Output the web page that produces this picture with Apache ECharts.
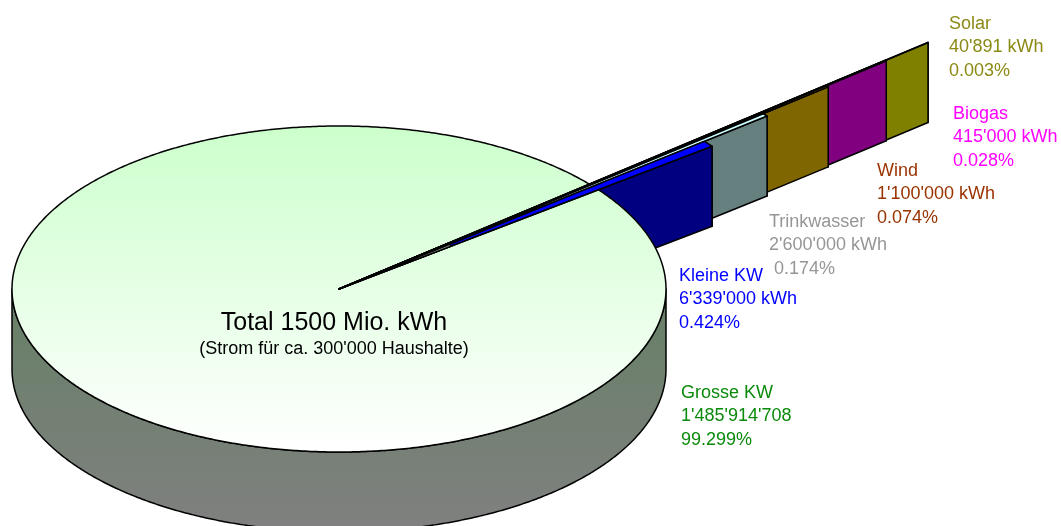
<!DOCTYPE html>
<html>
<head>
<meta charset="utf-8">
<style>html,body{margin:0;padding:0;background:#fff}#chart{width:1061px;height:526px}</style>
<script src="https://cdn.jsdelivr.net/npm/echarts@6/dist/echarts.min.js"></script>
</head>
<body>
<div id="chart"></div>
<script>
// Electricity production by plant type, in kWh per year
const categories = ['Grosse KW', 'Kleine KW', 'Trinkwasser', 'Wind', 'Biogas', 'Solar'];
const energyKwh = [1485914708, 6339000, 2600000, 1100000, 415000, 40891];
const unitSuffix = ['', ' kWh', ' kWh', ' kWh', ' kWh', ' kWh'];
const centerLines = ['Total 1500 Mio. kWh', "(Strom für ca. 300'000 Haushalte)"];

// Disc projection on a pixel-scaled pair of axes
const CX = 339, CY = 289, RX = 327, RY = 163, DEPTH = 80;
const FIRST_SMALL_ANGLE = 37.5;
// How far each slice reaches out, in disc radii
const reach = [1, 1.438, 1.685, 1.943, 2.182, 2.352];
const wallColor = ['#000', '#000080', '#668080', '#806600', '#800080', '#808000'];
const topColor = ['#000', '#0000ff', '#ccffff', '#806600', '#800080', '#808000'];
const labelColor = ['#0a8a0a', '#0000ff', '#969696', '#993300', '#ff00ff', '#8a8a14'];
const labelAnchor = [[681, 393], [679, 276], [769, 222], [877, 171], [953, 114], [949, 24]];
const labelIndent = [[0, 0, 0], [0, 0, 0], [0, 0, 5], [0, 0, 0], [0, 0, 0], [0, 0, 0]];
const LINE_GAP = 23.5;
const FONT = '"Liberation Sans", Arial, sans-serif';
const INNER_REACH = 0.435;

const total = energyKwh.reduce((a, b) => a + b, 0);
const spans = energyKwh.map(v => v / total * 360);

// Small slices run counter-clockwise from FIRST_SMALL_ANGLE; the big one fills the rest
const sliceStart = [];
let cursor = FIRST_SMALL_ANGLE;
for (let i = 1; i < categories.length; i++) { sliceStart[i] = cursor; cursor += spans[i]; }
sliceStart[0] = cursor;

const groupThousands = v => String(v).replace(/\B(?=(\d{3})+$)/g, "'");
const percentText = v => (v / total * 100).toFixed(3) + '%';

function at(r, deg, drop) {
  const a = deg * Math.PI / 180;
  return [CX + RX * r * Math.cos(a), CY - RY * r * Math.sin(a) + (drop || 0)];
}
const toPixels = (api, pts) => pts.map(p => api.coord(p));
const outline = { stroke: '#000', lineWidth: 1.5, lineJoin: 'round' };

function polygon(api, pts, fill) {
  return { type: 'polygon', shape: { points: toPixels(api, pts) }, style: Object.assign({ fill }, outline) };
}

// Radial wall and end face of one small slice
function renderWall(params, api) {
  const i = api.value(0);
  const r = reach[i], a0 = sliceStart[i], a1 = a0 + spans[i];
  return {
    type: 'group',
    children: [
      polygon(api, [at(r, a0), at(r, a1), at(r, a1, DEPTH), at(r, a0, DEPTH)], wallColor[i]),
      polygon(api, [at(0, a0), at(r, a0), at(r, a0, DEPTH), at(0, a0, DEPTH)], wallColor[i])
    ]
  };
}

// Rim and top face of the big slice
function renderDisc(params, api) {
  const a0 = sliceStart[0], a1 = a0 + spans[0];
  const rim = [], lower = [];
  for (let d = 180; d <= 360; d += 0.5) { rim.push(at(1, d)); lower.unshift(at(1, d, DEPTH)); }
  const top = [at(0, 0)];
  for (let d = a0; d < a1; d += 0.5) top.push(at(1, d));
  top.push(at(1, a1));
  return {
    type: 'group',
    children: [
      {
        type: 'polygon',
        shape: { points: toPixels(api, rim.concat(lower)) },
        style: Object.assign({
          fill: new echarts.graphic.LinearGradient(0, 0, 0, 1, [
            { offset: 0, color: '#668066' }, { offset: 1, color: '#808080' }
          ])
        }, outline)
      },
      {
        type: 'polygon',
        shape: { points: toPixels(api, top) },
        style: Object.assign({
          fill: new echarts.graphic.LinearGradient(0, 0, 0, 1, [
            { offset: 0, color: '#ccffcc' }, { offset: 1, color: '#ffffff' }
          ])
        }, outline)
      }
    ]
  };
}

// Top face of one small slice, greyed near the centre
function renderTop(params, api) {
  const i = api.value(0);
  const r = reach[i], a0 = sliceStart[i], a1 = a0 + spans[i];
  return {
    type: 'group',
    children: [
      polygon(api, [at(0, a0), at(r, a0), at(r, a1)], topColor[i]),
      polygon(api, [at(0, a0), at(INNER_REACH, a0), at(INNER_REACH, a1)], '#8f9f8f')
    ]
  };
}

function textEl(api, str, x, y, fill, size, align) {
  const p = api.coord([x, y]);
  return {
    type: 'text',
    style: { text: str, x: p[0], y: p[1], fill, font: size + 'px ' + FONT, align: align || 'left', verticalAlign: 'middle' }
  };
}

function renderLabel(params, api) {
  const i = api.value(0);
  const [x, y] = labelAnchor[i];
  const lines = [categories[i], groupThousands(energyKwh[i]) + unitSuffix[i], percentText(energyKwh[i])];
  return {
    type: 'group',
    children: lines.map((t, k) => textEl(api, t, x + labelIndent[i][k], y + k * LINE_GAP, labelColor[i], 18))
  };
}

function renderCenter(params, api) {
  return {
    type: 'group',
    children: [
      textEl(api, centerLines[0], 334, 323, '#000', 25, 'center'),
      textEl(api, centerLines[1], 334, 349, '#000', 18, 'center')
    ]
  };
}

const smallFarFirst = [5, 4, 3, 2, 1];
const customSeries = (renderItem, data, z) => ({
  type: 'custom', coordinateSystem: 'cartesian2d', renderItem, data: data.map(i => [i]),
  encode: { x: -1, y: -1 }, silent: true, clip: false, animation: false, z
});

const chart = echarts.init(document.getElementById('chart'), null, { renderer: 'canvas' });
chart.setOption({
  animation: false,
  backgroundColor: '#fff',
  grid: { left: 0, right: 0, top: 0, bottom: 0 },
  xAxis: { type: 'value', min: 0, max: 1061, show: false },
  yAxis: { type: 'value', min: 0, max: 526, inverse: true, show: false },
  series: [
    customSeries(renderWall, smallFarFirst, 1),
    customSeries(renderDisc, [0], 2),
    customSeries(renderTop, smallFarFirst, 3),
    customSeries(renderLabel, [0, 1, 2, 3, 4, 5], 4),
    customSeries(renderCenter, [0], 5)
  ]
});
</script>
</body>
</html>
